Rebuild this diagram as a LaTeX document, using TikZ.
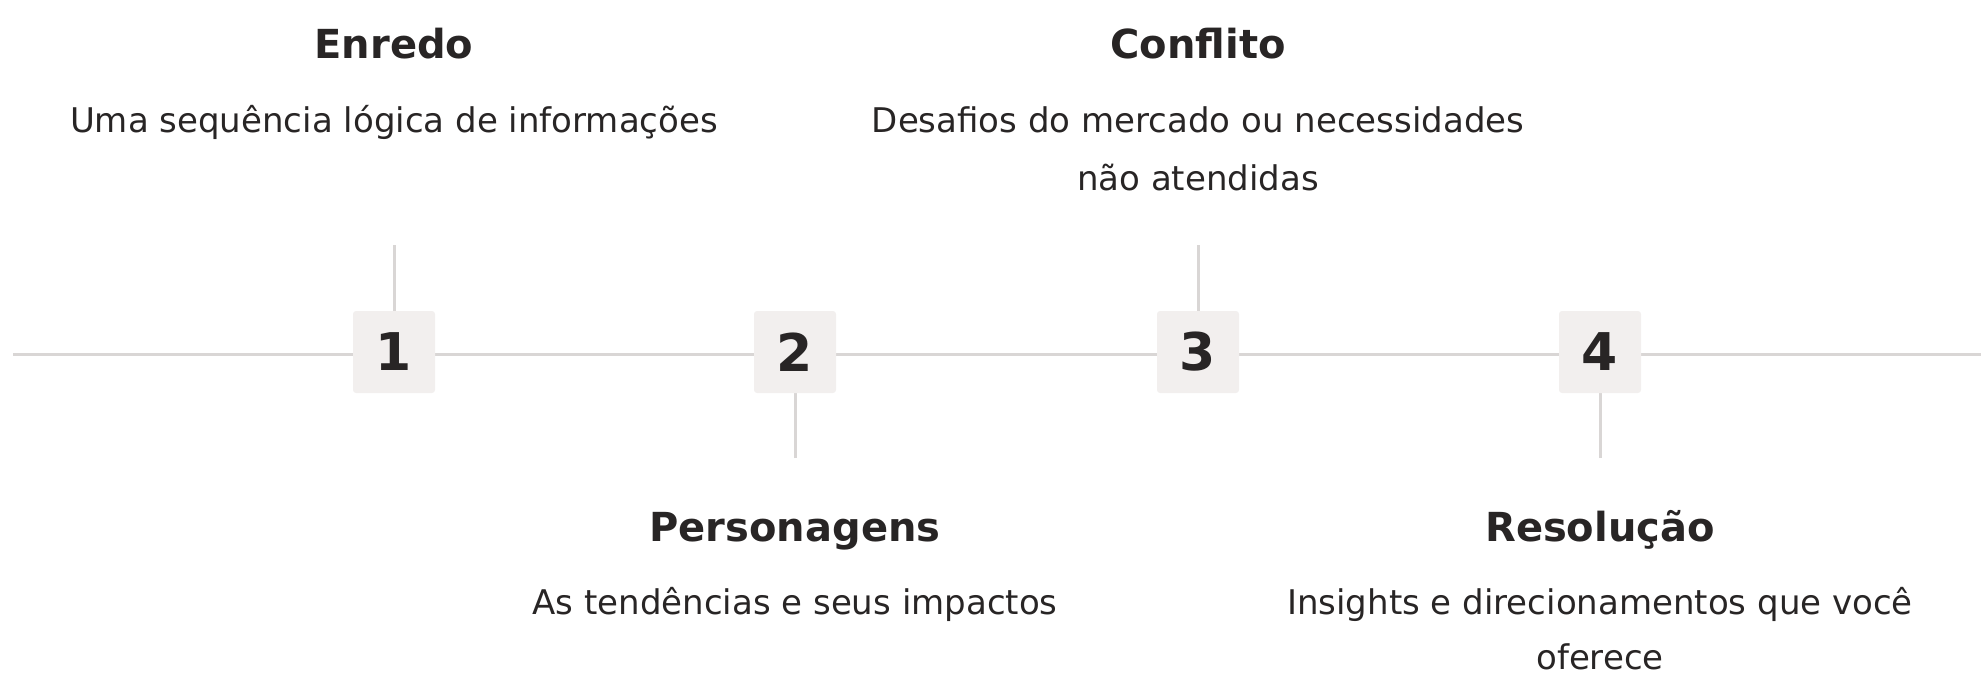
\documentclass[tikz,border=0pt]{standalone}
\usepackage{fontspec}
\setmainfont{DejaVu Sans}
\definecolor{linec}{HTML}{D9D6D5}
\definecolor{boxc}{HTML}{F2EFEE}
\definecolor{txt}{HTML}{282525}
\begin{document}
\begin{tikzpicture}[x=1pt,y=-1pt,
  conn/.style={draw=linec, line width=3pt},
  numbox/.style={fill=boxc, rounded corners=3pt, minimum width=82pt, minimum height=82pt, inner sep=0pt, text=txt, font=\fontsize{52}{52}\selectfont\bfseries},
  ttl/.style={anchor=base, text=txt, font=\fontsize{40}{40}\selectfont\bfseries, inner sep=0pt},
  dsc/.style={anchor=base, text=txt, font=\fontsize{34}{34}\selectfont, inner sep=0pt}]
\useasboundingbox (0,0) rectangle (1986,674);
\coordinate (L) at (13,354);
\coordinate (R) at (1981,354);
\coordinate (t1) at (394,245);
\coordinate (t3) at (1198,245);
\coordinate (b2) at (795,458);
\coordinate (b4) at (1600,458);
\draw[conn] (L) -- (R);
\draw[conn] (t1) -- (394,320);
\draw[conn] (t3) -- (1198,320);
\draw[conn] (b2) -- (795,380);
\draw[conn] (b4) -- (1600,380);
\node[numbox] (n1) at (394,352) {1};
\node[numbox] (n2) at (795,352) {2};
\node[numbox] (n3) at (1198,352) {3};
\node[numbox] (n4) at (1600,352) {4};
\node[ttl] (h1) at (394,59) {Enredo};
\node[dsc] (d1) at (394,132) {Uma sequência lógica de informações};
\node[ttl] (h3) at (1198,59) {Conflito};
\node[dsc] (d3a) at (1198,132) {Desafios do mercado ou necessidades};
\node[dsc] (d3b) at (1198,190) {não atendidas};
\node[ttl] (h2) at (795,541) {Personagens};
\node[dsc] (d2) at (795,614) {As tendências e seus impactos};
\node[ttl] (h4) at (1600,541) {Resolução};
\node[dsc] (d4a) at (1600,614) {Insights e direcionamentos que você};
\node[dsc] (d4b) at (1600,669) {oferece};
\end{tikzpicture}
\end{document}
